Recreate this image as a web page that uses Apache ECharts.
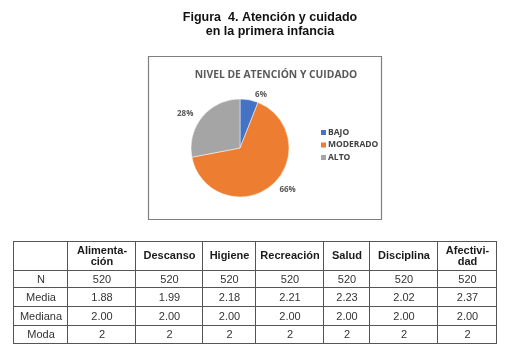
<!DOCTYPE html>
<html>
<head>
<meta charset="utf-8">
<script src="https://cdn.jsdelivr.net/npm/echarts@6/dist/echarts.min.js"></script>
<style>
html,body{margin:0;padding:0;background:#fff;}
#main{width:509px;height:357px;}
</style>
</head>
<body>
<div id="main"></div>
<script>
// datos del grafico
var niveles = ['BAJO', 'MODERADO', 'ALTO'];
var porcentajes = [6, 66, 28];
var colores = ['#4472C4', '#ED7D31', '#A5A5A5'];

// datos de la tabla
var columnas = [['Alimenta-', 'ción'], ['Descanso'], ['Higiene'], ['Recreación'], ['Salud'], ['Disciplina'], ['Afectivi-', 'dad']];
var filas = ['N', 'Media', 'Mediana', 'Moda'];
var valN = ['520', '520', '520', '520', '520', '520', '520'];
var valMedia = ['1.88', '1.99', '2.18', '2.21', '2.23', '2.02', '2.37'];
var valMediana = ['2.00', '2.00', '2.00', '2.00', '2.00', '2.00', '2.00'];
var valModa = ['2', '2', '2', '2', '2', '2', '2'];

var myChart = echarts.init(document.getElementById('main'));

// tabla con elementos graphic
var colX = [13, 67, 135, 202, 255, 323, 369, 437, 496];
var rowY = [241, 270, 287, 306, 325, 343];
var g = [];
var lineStyle = {stroke: '#555', lineWidth: 1};
for (var i = 0; i < colX.length; i++) {
	g.push({type: 'line', shape: {x1: colX[i] + 0.5, y1: rowY[0], x2: colX[i] + 0.5, y2: rowY[rowY.length - 1]}, style: lineStyle});
}
for (var j = 0; j < rowY.length; j++) {
	g.push({type: 'line', shape: {x1: colX[0], y1: rowY[j] + 0.5, x2: colX[colX.length - 1] + 1, y2: rowY[j] + 0.5}, style: lineStyle});
}
function celda(txt, c, yc, bold) {
	g.push({
		type: 'text',
		x: (colX[c] + colX[c + 1]) / 2 + 1,
		y: yc,
		style: {text: txt, fill: bold ? '#1a1a1a' : '#333', font: (bold ? 'bold 11px ' : '11px ') + '"Liberation Sans", Arial', align: 'center', verticalAlign: 'middle', lineHeight: 11}
	});
}
var each = function(arr, fn){ for (var k = 0; k < arr.length; k++) fn(arr[k], k); };
each(columnas, function(v, k){ celda(v.join('\n'), k + 1, 256, true); });
var datos = [valN, valMedia, valMediana, valModa];
each(filas, function(f, r){
	var yc = (rowY[r + 1] + rowY[r + 2]) / 2 + 1;
	celda(f, 0, yc, false);
	each(datos[r], function(v, k){ celda(v, k + 1, yc, false); });
});

// marco del grafico
g.push({type: 'rect', shape: {x: 148.5, y: 56.5, width: 233, height: 163}, style: {fill: 'none', stroke: '#7f7f7f', lineWidth: 1.2}, z: -1});

var option = {
	animation: false,
	title: [{
		text: 'Figura  4. Atención y cuidado\nen la primera infancia',
		left: 265, top: 6, textAlign: 'center',
		textStyle: {fontFamily: '"Liberation Sans", Arial', fontSize: 12.5, fontWeight: 'bold', color: '#111', lineHeight: 14}
	}, {
		text: 'NIVEL DE ATENCIÓN Y CUIDADO',
		left: 271, top: 65, textAlign: 'center',
		textStyle: {fontFamily: '"Open Sans"', fontSize: 10.3, fontWeight: 'bold', color: '#595959'}
	}],
	legend: {
		orient: 'vertical',
		left: 314, top: 123,
		itemWidth: 7, itemHeight: 7, itemGap: 3.5,
		icon: 'rect',
		textStyle: {fontFamily: '"Open Sans"', fontSize: 8.5, fontWeight: 'bold', color: '#404040', padding: [0, 0, 0, -4]},
		data: niveles
	},
	color: colores,
	series: [{
		type: 'pie',
		center: [240, 148],
		radius: 49,
		startAngle: 90,
		clockwise: true,
		label: {
			position: 'outside',
			formatter: '{c}%',
			fontFamily: '"Open Sans"', fontSize: 8, fontWeight: 'bold', color: '#595959'
		},
		labelLine: {show: false, length: 5, length2: 0},
		itemStyle: {borderColor: '#fff', borderWidth: 0.5},
		data: niveles.map(function(n, k){ return {name: n, value: porcentajes[k]}; })
	}],
	graphic: g
};
myChart.setOption(option);
</script>
</body>
</html>
